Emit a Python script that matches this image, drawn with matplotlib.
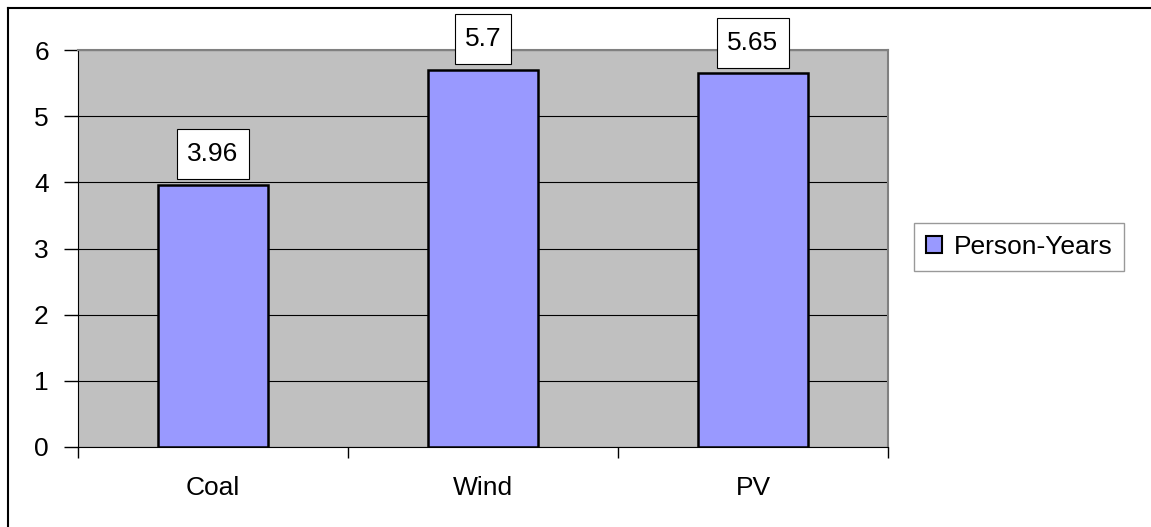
import numpy as np
import matplotlib.pyplot as plt
from matplotlib.patches import Rectangle
from matplotlib.transforms import IdentityTransform

categories = ['Coal', 'Wind', 'PV']
person_years = [3.96, 5.7, 5.65]
series_name = 'Person-Years'

plt.rcParams['font.family'] = ['Liberation Sans', 'DejaVu Sans']
FS = 19

W, H = 1151, 527
fig = plt.figure(figsize=(W / 100, H / 100), dpi=100)

# outer chart border (only top and left visible)
fig.add_artist(plt.Line2D([8 / W, 8 / W], [0, 1 - 8 / H], color='black', lw=1.5))
fig.add_artist(plt.Line2D([8 / W, 1], [1 - 8 / H, 1 - 8 / H], color='black', lw=1.5))

left, right, top, bottom = 78, 888, 50, 447
ax = fig.add_axes([left / W, 1 - bottom / H, (right - left) / W, (bottom - top) / H])
ax.set_facecolor('#c0c0c0')

x = np.arange(len(categories))
bars = ax.bar(x, person_years, width=0.41, color='#9999ff', edgecolor='black',
              linewidth=1.8, zorder=3, label=series_name)

ax.set_xlim(-0.5, len(categories) - 0.5)
ax.set_ylim(0, 6)
ax.set_yticks(range(7))
ax.yaxis.grid(True, color='black', lw=0.8, zorder=1)

ax.set_xticks(x)
ax.set_xticklabels(categories)
ax.set_xticks(np.arange(-0.5, len(categories)), minor=True)
ax.tick_params(axis='x', which='major', length=0, pad=21, labelsize=FS)
ax.tick_params(axis='x', which='minor', length=8, width=1, direction='out')
ax.tick_params(axis='y', length=10, width=1, direction='out', pad=11, labelsize=FS)

for side in ['top', 'right']:
    ax.spines[side].set_color('#808080')
    ax.spines[side].set_linewidth(1.5)
ax.spines['left'].set_color('black')
ax.spines['bottom'].set_color('black')

# value labels in white boxes above the bars
texts = []
for b, v in zip(bars, person_years):
    t = ax.annotate(f'{v:g}', (b.get_x() + b.get_width() / 2, v), xytext=(0, 22),
                    textcoords='offset points', ha='center', va='center',
                    fontsize=FS, zorder=6)
    texts.append(t)

fig.canvas.draw()
r = fig.canvas.get_renderer()
for t in texts:
    bb = t.get_window_extent(r)
    cx = (bb.x0 + bb.x1) / 2
    cy = (bb.y0 + bb.y1) / 2
    bw = bb.width * 1.1 + 16
    bh = 50
    rect = Rectangle((cx - bw / 2, cy - bh / 2), bw, bh, transform=IdentityTransform(),
                     fc='white', ec='black', lw=0.8, zorder=5, clip_on=False)
    ax.add_patch(rect)

leg = fig.legend(handles=[Rectangle((0, 0), 1, 1, fc='#9999ff', ec='black', lw=1.5)],
                 labels=[series_name], loc='center left', bbox_to_anchor=(914 / W, 1 - 247 / H),
                 fontsize=FS, fancybox=False, edgecolor='#808080', handlelength=0.6,
                 handleheight=0.6, handletextpad=0.45, borderpad=0.45, borderaxespad=0)
leg.get_frame().set_linewidth(1)

fig.savefig('out.png', dpi=100)
